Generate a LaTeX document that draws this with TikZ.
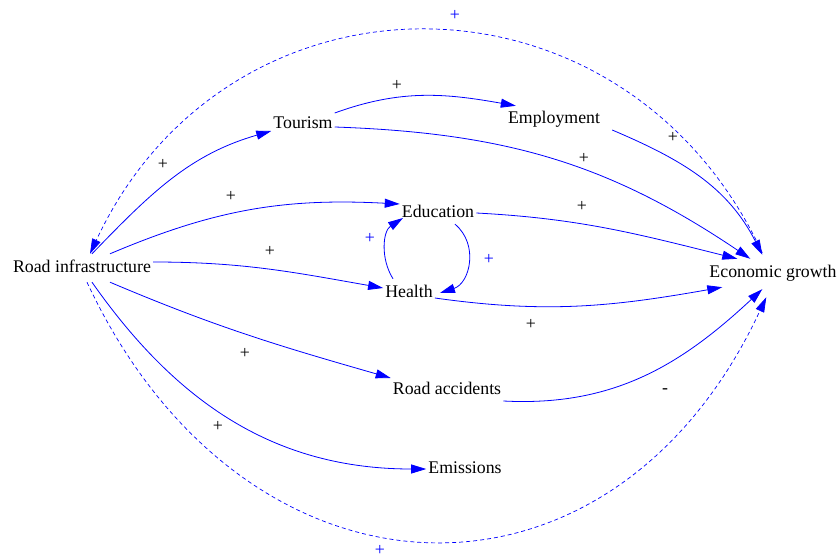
\documentclass[tikz,border=0pt]{standalone}
\usepackage{fontspec}
\setmainfont{Liberation Serif}
\usetikzlibrary{arrows.meta,positioning}

\begin{document}
\begin{tikzpicture}[x=1pt,y=1pt,
  every node/.style={font=\fontsize{17.8}{20}\selectfont},
  var/.style={inner xsep=2pt,inner ysep=6pt,text height=12pt,text depth=4pt},
  sign/.style={inner sep=0pt},
  link/.style={color=blue,line width=0.8pt,-{Triangle[length=15pt,width=9pt]}},
  feedback/.style={link,line width=0.7pt,dash pattern=on 4pt off 3pt}]
  \useasboundingbox (0,0) rectangle (837,558);

  \node[var] (infra) at (82,290) {Road infrastructure};
  \node[var] (tourism) at (303,433) {Tourism};
  \node[var] (employment) at (554,438) {Employment};
  \node[var] (education) at (438,345) {Education};
  \node[var] (health) at (409,265) {Health};
  \node[var] (growth) at (773,285) {Economic growth};
  \node[var] (accidents) at (447,168) {Road accidents};
  \node[var] (emissions) at (465,89) {Emissions};

  \draw[link] ([xshift=10]infra.north) to[out=46,in=196] ([yshift=-6]tourism.west);
  \draw[link] ([xshift=28]infra.north) to[out=23,in=177] ([yshift=9]education.west);
  \draw[link] ([yshift=6]infra.east) to[out=0,in=170] ([yshift=5]health.west);
  \draw[link] ([xshift=28]infra.south) to[out=-23,in=164] ([yshift=12]accidents.west);
  \draw[link] ([xshift=10]infra.south) to[out=-55,in=180] (emissions.west);
  \draw[link] ([yshift=12]tourism.east) to[out=20,in=170] ([xshift=10]employment.north west);
  \draw[link] ([yshift=-2]tourism.east) to[out=-2,in=146] ([xshift=43]growth.north west);
  \draw[link] ([shift={(10,-10)}]employment.east) to[out=-23,in=117] ([shift={(55,4)}]growth.north west);
  \draw[link] (education.east) to[out=-3,in=166] ([xshift=30]growth.north west);
  \draw[link] ([yshift=-5]health.east) to[out=-8,in=190] ([xshift=15]growth.south west);
  \draw[link] ([yshift=-11]accidents.east) to[out=-3,in=223] ([shift={(55,-2)}]growth.south west);
  \draw[link] ([shift={(17,3)}]education.south) to[out=-40,in=18,looseness=1.15] ([xshift=5]health.east);
  \draw[link] ([xshift=-16]health.north) to[out=122,in=213] ([shift={(-35,-5)}]education.center);
  \draw[feedback] ([shift={(55,6)}]growth.north west) to[out=115,in=65,looseness=1.25] ([xshift=8]infra.north);
  \draw[feedback] ([xshift=5]infra.south) to[out=-65,in=245,looseness=1.39] ([shift={(59,-10)}]growth.south west);

  \node[sign,blue] (s1) at (455,543) {+};
  \node[sign] (s2) at (397,473) {+};
  \node[sign] (s3) at (163,394) {+};
  \node[sign] (s4) at (231,362) {+};
  \node[sign] (s5) at (270,307) {+};
  \node[sign,blue] (s6) at (370,320) {+};
  \node[sign,blue] (s7) at (489,299) {+};
  \node[sign] (s8) at (584,400) {+};
  \node[sign] (s9) at (582,352) {+};
  \node[sign] (s10) at (673,421) {+};
  \node[sign] (s11) at (531,234) {+};
  \node[sign] (s12) at (245,205) {+};
  \node[sign] (s13) at (218,132) {+};
  \node[sign] (s14) at (665,167) {-};
  \node[sign,blue] (s15) at (380,7.5) {+};
\end{tikzpicture}
\end{document}
